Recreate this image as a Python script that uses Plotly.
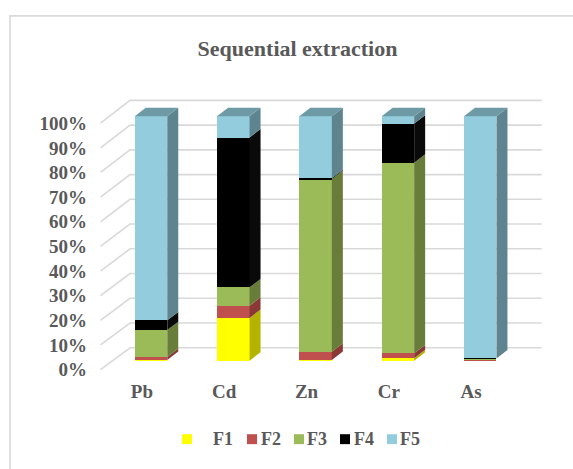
import plotly.graph_objects as go

# ---------------- data ----------------
categories = ["Pb", "Cd", "Zn", "Cr", "As"]
series_names = ["F1", "F2", "F3", "F4", "F5"]
F1 = [0.3, 17.5, 0.3, 1.0, 0.2]
F2 = [1.2, 5.0, 3.4, 2.0, 0.2]
F3 = [11.0, 7.5, 70.6, 78.0, 0.3]
F4 = [4.0, 61.3, 0.4, 16.0, 0.2]
F5 = [83.5, 8.7, 25.3, 3.0, 99.1]
y_tick_values = [0, 10, 20, 30, 40, 50, 60, 70, 80, 90, 100]
y_tick_labels = [f"{v}%" for v in y_tick_values]

series = [F1, F2, F3, F4, F5]

# ---------------- styles ----------------
front_colors = ["#FFFF00", "#C0504D", "#9BBB59", "#000000", "#93CDDD"]
side_colors = ["#B3B300", "#8A3936", "#687D3A", "#0A0A0A", "#5E848F"]
top_colors = ["#CCCC00", "#A04340", "#7F9A47", "#1A1A1A", "#6E9AA6"]
TEXT = "#595959"
GRID = "#D9D9D9"
FONT = "Liberation Serif, Times New Roman, serif"

W, H = 573, 469
# pixel geometry (used only to set axis ranges / 3-D offsets)
PX_X0, PX_STEP = 151.0, 82.3       # centre of first category, spacing
PX_Y0, PX_PER = 363.0, 2.46        # y pixel of 0 %, pixels per 1 %
PLOT_L, PLOT_B = 100.0, 380.0

BAR_W = 32.5 / PX_STEP
DX = 11.0 / PX_STEP                # bar depth (x)
DY = 8.5 / PX_PER                  # bar depth (y)

# walls
X_FRONT = (100.5 - PX_X0) / PX_STEP
X_BACK = (130.0 - PX_X0) / PX_STEP
X_RIGHT = (541.7 - PX_X0) / PX_STEP


def y_front(v):
    return (PX_Y0 - (372.0 - v * 2.48)) / PX_PER


def y_back(v):
    return (PX_Y0 - (350.0 - v * 2.49)) / PX_PER


fig = go.Figure()

shapes = []
# gridlines (left wall diagonals + back wall), drawn beneath the bars
for v in y_tick_values:
    shapes.append(dict(type="path", xref="x", yref="y", layer="below",
                       path=f"M{X_FRONT},{y_front(v)} L{X_BACK},{y_back(v)} L{X_RIGHT},{y_back(v)}",
                       line=dict(color=GRID, width=1.6)))

xs = list(range(len(categories)))

# front faces
for name, vals, col in zip(series_names, series, front_colors):
    fig.add_trace(go.Bar(x=xs, y=vals, name=name, width=BAR_W,
                         marker=dict(color=col, line=dict(width=0)),
                         showlegend=False))

# side faces
base = [0.0] * len(categories)
for k, (vals, col) in enumerate(zip(series, side_colors)):
    px_, py_ = [], []
    for i, v in enumerate(vals):
        b, t = base[i], base[i] + v
        xr = i + BAR_W / 2
        px_ += [xr, xr + DX, xr + DX, xr, xr, None]
        py_ += [b, b + DY, t + DY, t, b, None]
    fig.add_trace(go.Scatter(x=px_, y=py_, mode="lines", fill="toself", fillcolor=col,
                             line=dict(width=0, color=col), hoverinfo="skip",
                             showlegend=False))
    base = [base[i] + vals[i] for i in range(len(vals))]

# top faces (colour of the top-most segment)
tx, ty = [], []
for i in xs:
    T = base[i]
    xl, xr = i - BAR_W / 2, i + BAR_W / 2
    tx += [xl, xr, xr + DX, xl + DX, xl, None]
    ty += [T, T, T + DY, T + DY, T, None]
fig.add_trace(go.Scatter(x=tx, y=ty, mode="lines", fill="toself", fillcolor=top_colors[4],
                         line=dict(width=0, color=top_colors[4]), hoverinfo="skip",
                         showlegend=False))

# ---------------- layout ----------------
x_range = [(PLOT_L - PX_X0) / PX_STEP, (W - PX_X0) / PX_STEP]
y_range = [-(PLOT_B - PX_Y0) / PX_PER, PX_Y0 / PX_PER]

shapes.append(dict(type="rect", xref="paper", yref="paper", x0=10 / W, x1=1.05,
                   y0=-0.05, y1=1 - 16 / H, line=dict(color=GRID, width=1.6)))
annotations = []

# legend (manual, Excel-like)
leg_sq = [182, 247, 294, 340, 387]
leg_tx = [213, 261, 307, 354, 400]
LEG_Y = 442
for name, col, sx, tx_ in zip(series_names, front_colors, leg_sq, leg_tx):
    shapes.append(dict(type="rect", xref="paper", yref="paper",
                       x0=sx / W, x1=(sx + 10) / W,
                       y0=1 - (LEG_Y + 5) / H, y1=1 - (LEG_Y - 5) / H,
                       fillcolor=col, line=dict(width=0)))
    annotations.append(dict(xref="paper", yref="paper", x=(tx_ - 2) / W, y=1 - LEG_Y / H,
                            text=f"<b>{name}</b>", showarrow=False, xanchor="left",
                            yanchor="middle",
                            font=dict(family=FONT, size=18, color=TEXT)))

fig.update_layout(
    width=W, height=H, autosize=False,
    margin=dict(l=0, r=0, t=0, b=0),
    paper_bgcolor="white", plot_bgcolor="white",
    barmode="stack", bargap=0,
    title=dict(text="<b>Sequential extraction</b>", x=297.5 / W, xanchor="center",
               y=1 - 48 / H, yanchor="middle",
               font=dict(family=FONT, size=22, color=TEXT)),
    xaxis=dict(domain=[PLOT_L / W, 1], range=x_range, showgrid=False, zeroline=False,
               showline=False, tickmode="array",
               tickvals=[i - 0.11 for i in xs], ticktext=[f"<b>{c}</b>" for c in categories],
               ticks="", tickfont=dict(family=FONT, size=19, color=TEXT)),
    yaxis=dict(domain=[(H - PLOT_B) / H, 1], range=y_range, showgrid=False, zeroline=False,
               showline=False, tickmode="array",
               tickvals=[y_front(v) for v in y_tick_values],
               ticktext=[f"<b>{t}</b>" for t in y_tick_labels],
               ticks="", ticklabelstandoff=12,
               tickfont=dict(family=FONT, size=19, color=TEXT)),
    shapes=shapes, annotations=annotations,
    showlegend=False,
)

fig.write_html("out.html", config={"displayModeBar": False},
               post_script="document.body.style.margin='0';document.body.style.overflow='hidden';")
